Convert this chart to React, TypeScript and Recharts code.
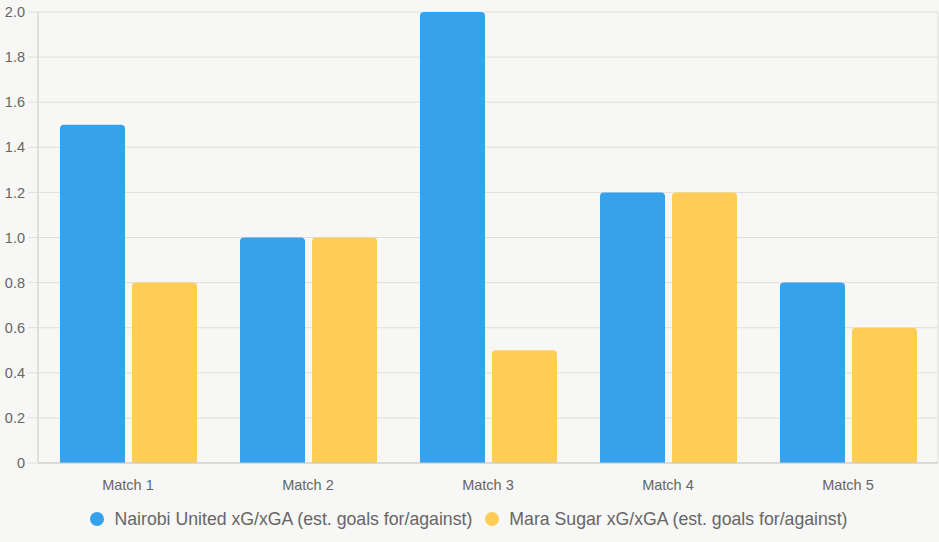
import React from 'react';
import { BarChart, Bar, XAxis, YAxis, CartesianGrid, Legend } from 'recharts';

const categories = ['Match 1', 'Match 2', 'Match 3', 'Match 4', 'Match 5'];
const nairobiValues = [1.5, 1.0, 2.0, 1.2, 0.8];
const maraValues = [0.8, 1.0, 0.5, 1.2, 0.6];
const yTicks = [0, 0.2, 0.4, 0.6, 0.8, 1.0, 1.2, 1.4, 1.6, 1.8, 2.0];
const boundaryTicks = [0, 1, 2, 3, 4, 5];

const seriesNames = {
  nairobi: 'Nairobi United xG/xGA (est. goals for/against)',
  mara: 'Mara Sugar xG/xGA (est. goals for/against)',
};

const BLUE = '#36a2eb';
const YELLOW = '#ffcd56';
const GRID = '#dedede';
const TEXT = '#666666';
const FONT = "'Liberation Sans', Arial, Helvetica, sans-serif";

const data = categories.map((name, i) => ({
  name,
  idx: i + 0.5,
  nairobi: nairobiValues[i],
  mara: maraValues[i],
}));

const LegendContent = () => (
  <div
    style={{
      display: 'flex',
      justifyContent: 'center',
      alignItems: 'center',
      height: 52,
      fontFamily: FONT,
      fontSize: 17.7,
      color: TEXT,
    }}
  >
    {[
      { label: seriesNames.nairobi, color: BLUE },
      { label: seriesNames.mara, color: YELLOW },
    ].map((item, i) => (
      <div key={i} style={{ display: 'flex', alignItems: 'center', marginLeft: i ? 13 : 0 }}>
        <span
          style={{
            width: 14,
            height: 14,
            borderRadius: '50%',
            background: item.color,
            marginRight: 10,
            display: 'inline-block',
          }}
        />
        <span>{item.label}</span>
      </div>
    ))}
  </div>
);

const App: React.FC = () => {
  return (
    <div style={{ position: 'absolute', left: 0, top: 0, width: 939, height: 542, background: '#f7f7f5' }}>
      <BarChart
        width={939}
        height={542}
        data={data}
        margin={{ top: 12, right: 1, left: 0, bottom: 0 }}
        barSize={65}
        barGap={7}
      >
        <CartesianGrid stroke={GRID} xAxisId="grid" />
        <XAxis
          xAxisId="grid"
          dataKey="idx"
          type="number"
          domain={[0, 5]}
          ticks={boundaryTicks}
          height={0}
          tick={false}
          tickSize={9}
          tickLine={{ stroke: GRID }}
          axisLine={false}
        />
        <XAxis
          xAxisId="cat"
          dataKey="name"
          height={30}
          tickLine={false}
          axisLine={{ stroke: '#c9c9c9' }}
          tickMargin={11}
          tick={{ fill: TEXT, fontSize: 14.5, fontFamily: FONT }}
        />
        <YAxis
          domain={[0, 2]}
          ticks={yTicks}
          width={38}
          tickSize={10}
          tickMargin={3}
          tickLine={{ stroke: GRID }}
          axisLine={{ stroke: '#d2d2d2' }}
          tick={{ fill: TEXT, fontSize: 14.5, fontFamily: FONT }}
          tickFormatter={(v: number) => (v === 0 ? '0' : v.toFixed(1))}
          interval={0}
        />
        <Legend verticalAlign="bottom" height={49} content={<LegendContent />} />
        <Bar
          xAxisId="cat"
          dataKey="nairobi"
          name={seriesNames.nairobi}
          fill={BLUE}
          radius={[4, 4, 0, 0]}
          isAnimationActive={false}
        />
        <Bar
          xAxisId="cat"
          dataKey="mara"
          name={seriesNames.mara}
          fill={YELLOW}
          radius={[4, 4, 0, 0]}
          isAnimationActive={false}
        />
      </BarChart>
    </div>
  );
};

export default App;
